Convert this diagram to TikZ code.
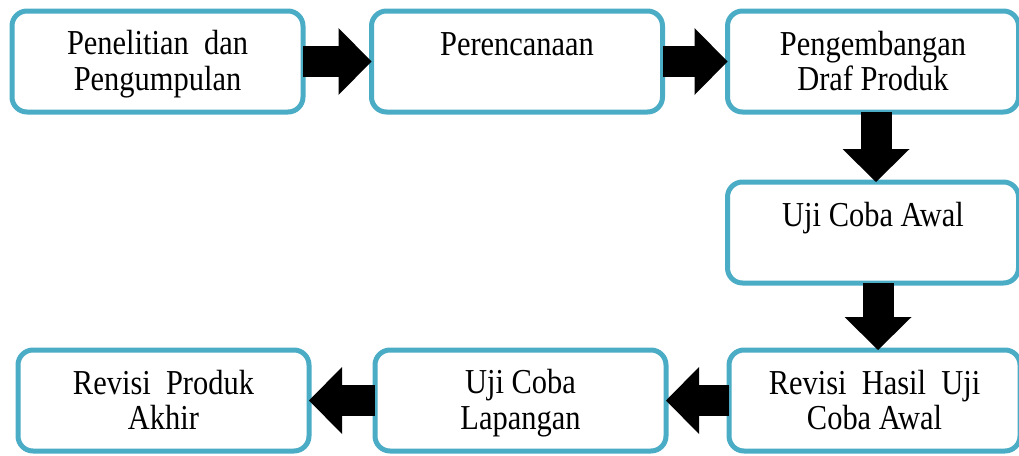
\documentclass[tikz,border=0pt]{standalone}
\usepackage{fontspec}
\setmainfont{Liberation Serif}[FakeStretch=0.87]
\usetikzlibrary{arrows.meta}
\definecolor{Cbrd}{RGB}{75,172,198}
\newcommand{\atas}{\rule{0pt}{30pt}}
\newcommand{\bawah}{\rule[-7.5pt]{0pt}{0pt}}
\tikzset{
  tahap/.style={
    draw=Cbrd, fill=white, line width=5pt, rounded corners=15pt,
    minimum width=291pt, minimum height=101pt, outer sep=0pt,
    align=center, font=\fontsize{35}{35.5}\selectfont
  },
  panah/.style={
    -{Triangle[length=33pt,width=67pt,line width=0pt]},
    line width=31pt, draw=black
  }
}
\begin{document}
\begin{tikzpicture}[x=1pt, y=-1pt]
\useasboundingbox (0,0) rectangle (1019,455);

% baris atas
\node[tahap] (b1) at (157.5, 61.5) {\atas Penelitian\ \ dan\\Pengumpulan\bawah};
\node[tahap] (b2) at (517,   61.5) {\atas Perencanaan\\\bawah};
\node[tahap] (b3) at (873,   61.5) {\atas Pengembangan\\Draf Produk\bawah};

% kolom kanan
\node[tahap] (b4) at (873, 232.5) {\atas Uji Coba Awal\\\bawah};

% baris bawah
\node[tahap] (b5) at (874.5, 400.5) {\atas Revisi\ \ Hasil\ \ Uji\\Coba Awal\bawah};
\node[tahap] (b6) at (520.5, 400.5) {\atas Uji Coba\\Lapangan\bawah};
\node[tahap] (b7) at (163.5, 400.5) {\atas Revisi\ \ Produk\\Akhir\bawah};

% panah
\draw[panah] (b1) -- (b2);
\draw[panah] (b2) -- (b3);
\draw[panah] ([xshift=3pt]b3.south) -- ([xshift=3pt]b4.north);
\draw[panah] ([xshift=5pt]b4.south) -- ([xshift=5pt]b4.south |- b5.north);
\draw[panah] (b5) -- (b6);
\draw[panah] (b6) -- (b7);

\end{tikzpicture}
\end{document}
